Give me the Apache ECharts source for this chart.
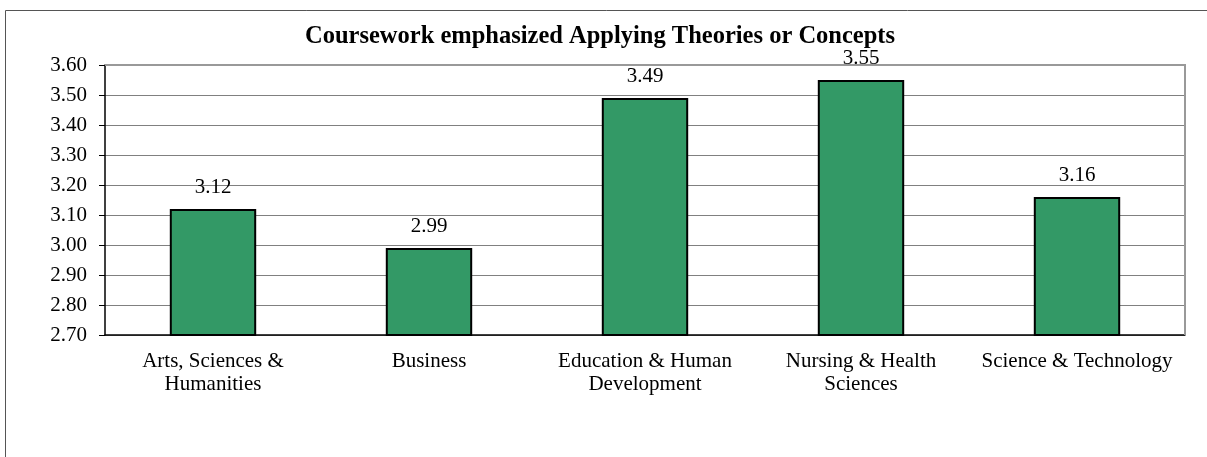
<!DOCTYPE html>
<html>
<head>
<meta charset="utf-8">
<script src="https://cdn.jsdelivr.net/npm/echarts@6/dist/echarts.min.js"></script>
<style>
  html, body { margin: 0; padding: 0; background: #fff; }
  #main { width: 1207px; height: 457px; }
</style>
</head>
<body>
<div id="main"></div>
<script>
    var categories = ['Arts, Sciences &\nHumanities', 'Business', 'Education & Human\nDevelopment',
        'Nursing & Health\nSciences', 'Science & Technology'];
    var scores = [3.12, 2.99, 3.49, 3.55, 3.16];
    var yMin = 2.7, yMax = 3.6, yStep = 0.1;

    var font = 'Liberation Serif, Times New Roman, serif';
    var myChart = echarts.init(document.getElementById('main'));
    var option = {
        animation: false,
        title: {
            text: 'Coursework emphasized Applying Theories or Concepts',
            left: 595,
            textAlign: 'center',
            top: 19,
            textStyle: { fontFamily: font, fontSize: 24.5, fontWeight: 'bold', color: '#000' }
        },
        graphic: [{
            type: 'rect',
            shape: { x: 5.5, y: 10.5, width: 1220, height: 460 },
            style: { fill: 'none', stroke: '#555', lineWidth: 1 },
            silent: true
        }, {
            // plot area frame (top / right, grey)
            type: 'polyline',
            shape: { points: [[105, 65], [1185, 65], [1185, 335]] },
            style: { stroke: '#999', lineWidth: 2, fill: 'none' },
            silent: true,
            z: 5
        }],
        grid: { left: 105, top: 65, width: 1080, height: 270 },
        xAxis: {
            type: 'category',
            data: categories,
            axisLine: { lineStyle: { color: '#000', width: 1.5 } },
            axisTick: { length: 5, lineStyle: { color: '#000' } },
            axisLabel: {
                interval: 0, hideOverlap: false,
                fontFamily: font, fontSize: 21, color: '#000', margin: 15, lineHeight: 23
            }
        },
        yAxis: {
            type: 'value',
            min: yMin,
            max: yMax,
            interval: yStep,
            axisLine: { show: true, lineStyle: { color: '#000', width: 1.5 } },
            axisTick: { show: true, inside: false, length: 6, lineStyle: { color: '#000' } },
            splitLine: { lineStyle: { color: '#808080', width: 1 } },
            axisLabel: {
                fontFamily: font, fontSize: 21, color: '#000', margin: 18,
                formatter: function (v) { return v.toFixed(2); }
            }
        },
        series: [{
            type: 'bar',
            data: scores,
            barWidth: '40%',
            itemStyle: { color: '#339966', borderColor: '#000', borderWidth: 2 },
            label: {
                show: true,
                position: 'top',
                distance: 11,
                fontFamily: font, fontSize: 21, color: '#000',
                formatter: function (p) { return p.value.toFixed(2); }
            }
        }]
    };
    myChart.setOption(option);
</script>
</body>
</html>
